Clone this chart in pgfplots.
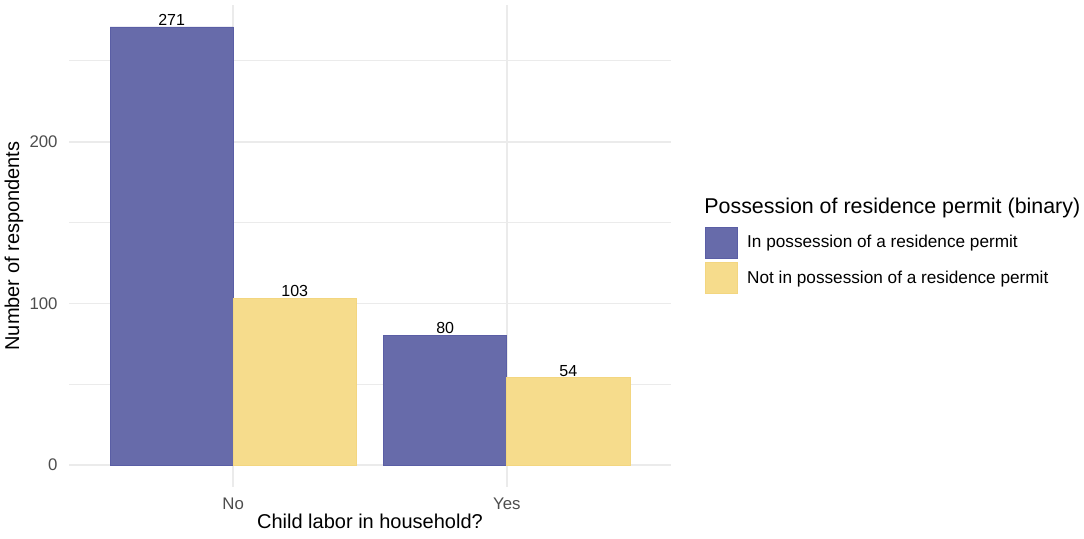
\documentclass[border=0pt]{standalone}
\usepackage{pgfplots}
\pgfplotsset{compat=1.18}
\usepackage{fontspec}
\setmainfont{Liberation Sans}
\definecolor{permblue}{HTML}{676BAA}
\definecolor{permblueedge}{HTML}{5A5EA5}
\definecolor{permyellow}{HTML}{F6DC8C}
\definecolor{permyellowedge}{HTML}{F3D680}
\definecolor{gridgray}{HTML}{EBEBEB}
\definecolor{ticktext}{HTML}{4D4D4D}
\begin{document}
\begin{tikzpicture}
\useasboundingbox (-34.5pt,-25.5pt) rectangle (507.5pt,243.5pt);
\begin{axis}[
    at={(0,0)}, anchor=south west,
    scale only axis,
    width=301pt, height=241pt,
    xmin=0.4, xmax=2.6,
    ymin=-13.55, ymax=284.55,
    ybar, bar width=0.45,
    axis line style={draw=none},
    tick style={draw=none},
    xtick={1,2}, xticklabels={No,Yes},
    ytick={0,100,200},
    minor ytick={50,150,250},
    xmajorgrids, ymajorgrids, yminorgrids,
    major grid style={gridgray, line width=0.9pt},
    minor grid style={gridgray, line width=0.45pt},
    /pgf/number format/assume math mode=true,
    tick label style={font=\fontsize{8.4}{10}\selectfont, text=ticktext},
    xticklabel style={anchor=north, yshift=2.1pt},
    yticklabel style={anchor=east, xshift=-2.2pt},
    xlabel={Child labor in household?},
    ylabel={Number of respondents},
    label style={font=\fontsize{11.1}{13}\selectfont},
    every axis x label/.style={at={(axis description cs:0.5,-0.0705)}, anchor=center},
    every axis y label/.style={at={(axis description cs:-0.0914,0.5)}, rotate=90, anchor=center},
    nodes near coords,
    nodes near coords style={font=\fontsize{8}{9}\selectfont, text=black, anchor=south, inner sep=0.6pt},
    legend style={draw=none, fill=none, at={(rel axis cs:1.0565,0.47)}, anchor=west,
        font=\fontsize{8.6}{10}\selectfont, row sep=2pt, inner sep=0pt,
        legend cell align=left},
    legend image code/.code={\draw[#1] (0pt,-7.75pt) rectangle (16pt,7.75pt);},
    clip=false,
]
\addplot[fill=permblue, draw=permblueedge, line width=0.4pt, bar shift=-0.225]
    coordinates {(1,271) (2,80)};
\addplot[fill=permyellow, draw=permyellowedge, line width=0.4pt, bar shift=0.225]
    coordinates {(1,103) (2,54)};
\legend{\hspace{2.5pt}In possession of a residence permit, \hspace{2.5pt}Not in possession of a residence permit}
\node[anchor=west, inner sep=0pt, font=\fontsize{10.7}{12}\selectfont]
    at (rel axis cs:1.0548,0.579) {Possession of residence permit (binary)};
\end{axis}
\end{tikzpicture}
\end{document}
